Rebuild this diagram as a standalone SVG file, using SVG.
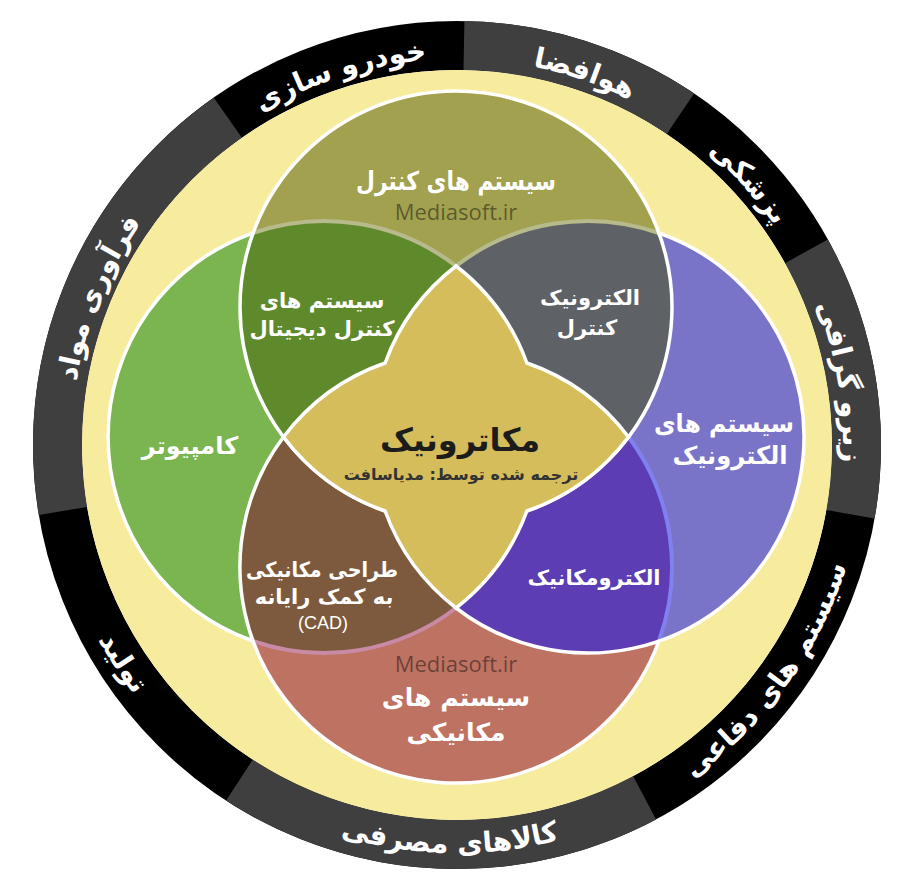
<svg xmlns="http://www.w3.org/2000/svg" xmlns:xlink="http://www.w3.org/1999/xlink" width="906" height="882" viewBox="0 0 906 882">
  <style>
    .fa { font-family: 'DejaVu Sans', 'Noto Sans', sans-serif; font-weight: bold; }
    .ring-t { fill: #ffffff; font-size: 28px; }
    .lbl { fill: #ffffff; text-anchor: middle; }
    .wm { font-family: 'Open Sans', 'Noto Sans', sans-serif; font-size: 22px; fill: #000000; fill-opacity: 0.45; text-anchor: middle; }
    .wline { fill: none; stroke: #ffffff; stroke-width: 3.5; }
    .tline { fill: none; stroke-width: 4; }
  </style>
  <defs>
    <clipPath id="cT"><circle cx="456" cy="307" r="216"/></clipPath>
    <clipPath id="cB"><circle cx="456" cy="567" r="216"/></clipPath>
    <path id="ringOut" d="M457,59 A386,386 0 1 1 457,831 A386,386 0 1 1 457,59"/>
    <path id="ringIn" d="M457,37 A408,408 0 1 0 457,853 A408,408 0 1 0 457,37"/>
  </defs>
  <rect width="906" height="882" fill="#ffffff"/>

  <g id="ring">
    <circle cx="457" cy="445" r="399.5" fill="none" stroke="#000000" stroke-width="49"/>
    <path d="M464.4,21.1 A424,424 0 0 1 694.1,93.5 L666.7,134.1 A375,375 0 0 0 463.5,70.1 Z" fill="#3f3f3f"/>
    <path d="M827.8,239.4 A424,424 0 0 1 874.6,518.6 L826.3,510.1 A375,375 0 0 0 785.0,263.2 Z" fill="#3f3f3f"/>
    <path d="M656.1,819.4 A424,424 0 0 1 226.1,800.6 L252.8,759.5 A375,375 0 0 0 633.1,776.1 Z" fill="#3f3f3f"/>
    <path d="M38.8,515.0 A424,424 0 0 1 213.8,97.7 L241.9,137.8 A375,375 0 0 0 87.1,506.9 Z" fill="#3f3f3f"/>
    <circle cx="457" cy="445" r="375" fill="#f7eb9e"/>
  </g>

  <g id="ring-labels" class="fa ring-t">
    <text text-anchor="middle"><textPath xlink:href="#ringOut" startOffset="5.278%">هوافضا</textPath></text>
    <text text-anchor="middle"><textPath xlink:href="#ringOut" startOffset="13.33%">پزشکی</textPath></text>
    <text text-anchor="middle"><textPath xlink:href="#ringOut" startOffset="22.4%">زیرو گرافی</textPath></text>
    <text text-anchor="middle"><textPath xlink:href="#ringOut" startOffset="81.2%">فرآوری مواد</textPath></text>
    <text text-anchor="middle"><textPath xlink:href="#ringOut" startOffset="95.14%">خودرو سازی</textPath></text>
    <text text-anchor="middle"><textPath xlink:href="#ringIn" startOffset="65%">سیستم های دفاعی</textPath></text>
    <text text-anchor="middle"><textPath xlink:href="#ringIn" startOffset="49.72%">کالاهای مصرفی</textPath></text>
    <text text-anchor="middle"><textPath xlink:href="#ringIn" startOffset="34.2%">تولید</textPath></text>
  </g>

  <g id="circle-left"><circle cx="324" cy="437" r="216" fill="#7ab54f"/></g>
  <g id="circle-bottom"><circle cx="456" cy="567" r="216" fill="#be7262"/></g>
  <g id="circle-right"><circle cx="588" cy="437" r="216" fill="#7a74c9"/></g>
  <g id="circle-top"><circle cx="456" cy="307" r="216" fill="#a1a14f"/></g>

  <g id="lens-top-left"><circle cx="324" cy="437" r="216" fill="#5f8a2b" clip-path="url(#cT)"/></g>
  <g id="lens-top-right"><circle cx="588" cy="437" r="216" fill="#5e6166" clip-path="url(#cT)"/></g>
  <g id="lens-bottom-left"><circle cx="324" cy="437" r="216" fill="#7d5a3d" clip-path="url(#cB)"/></g>
  <g id="lens-bottom-right"><circle cx="588" cy="437" r="216" fill="#5c3db4" clip-path="url(#cB)"/></g>

  <g id="connectors">
    <path class="tline" stroke="#b7ba8a" d="M253.1,233 A216,216 0 0 1 456,266"/>
    <path class="tline" stroke="#b7ba8a" d="M456,266 A216,216 0 0 1 658.9,233"/>
    <path class="tline" stroke="#c98aa6" d="M456,608 A216,216 0 0 1 253.1,641"/>
    <path class="tline" stroke="#8080f0" d="M628.5,437 A216,216 0 0 1 658.9,641"/>
    <path class="wline" d="M253.1,641 A216,216 0 0 1 253.1,233"/>
    <path class="wline" d="M658.9,641 A216,216 0 1 1 283.5,437"/>
    <path class="wline" d="M658.9,233 A216,216 0 1 1 456,608"/>
    <circle class="wline" cx="456" cy="307" r="216"/>
  </g>

  <g id="center">
    <path d="M456,266 A216,216 0 0 0 385.1,363 A216,216 0 0 0 283.5,437 A216,216 0 0 0 385.1,511 A216,216 0 0 0 456,608 A216,216 0 0 0 526.9,511 A216,216 0 0 0 628.5,437 A216,216 0 0 0 526.9,363 A216,216 0 0 0 456,266 Z" fill="#d5bd5b" stroke="#ffffff" stroke-width="3.5"/>
    <text class="fa" x="460" y="451" font-size="32" fill="#1c1c1c" text-anchor="middle">مکاترونیک</text>
    <text class="fa" x="461" y="480" font-size="16" fill="#333333" text-anchor="middle">ترجمه شده توسط: مدیاسافت</text>
  </g>

  <g id="label-top">
    <text class="fa lbl" x="456" y="190" font-size="26" textLength="200" lengthAdjust="spacingAndGlyphs">سیستم های کنترل</text>
    <text class="wm" x="456" y="220">Mediasoft.ir</text>
  </g>
  <g id="label-top-left">
    <text class="fa lbl" x="322" y="308" font-size="21">سیستم های</text>
    <text class="fa lbl" x="322" y="336" font-size="21">کنترل دیجیتال</text>
  </g>
  <g id="label-top-right">
    <text class="fa lbl" x="590" y="305" font-size="21">الکترونیک</text>
    <text class="fa lbl" x="587" y="335" font-size="21">کنترل</text>
  </g>
  <g id="label-left">
    <text class="fa lbl" x="190" y="454" font-size="24">کامپیوتر</text>
  </g>
  <g id="label-right">
    <text class="fa lbl" x="724" y="432" font-size="25" textLength="140" lengthAdjust="spacingAndGlyphs">سیستم های</text>
    <text class="fa lbl" x="730" y="464" font-size="25" textLength="115" lengthAdjust="spacingAndGlyphs">الکترونیک</text>
  </g>
  <g id="label-bottom-right">
    <text class="fa lbl" x="594" y="585" font-size="21">الکترومکانیک</text>
  </g>
  <g id="label-bottom-left">
    <text class="fa lbl" x="322" y="577" font-size="21" textLength="152" lengthAdjust="spacingAndGlyphs">طراحی مکانیکی</text>
    <text class="fa lbl" x="324" y="604" font-size="21">به کمک رایانه</text>
    <text class="lbl" x="323" y="629" font-size="18" font-family="'Liberation Sans', sans-serif">(CAD)</text>
  </g>
  <g id="label-bottom">
    <text class="wm" x="456" y="672">Mediasoft.ir</text>
    <text class="fa lbl" x="456" y="706" font-size="25">سیستم های</text>
    <text class="fa lbl" x="456" y="741" font-size="25">مکانیکی</text>
  </g>
</svg>
